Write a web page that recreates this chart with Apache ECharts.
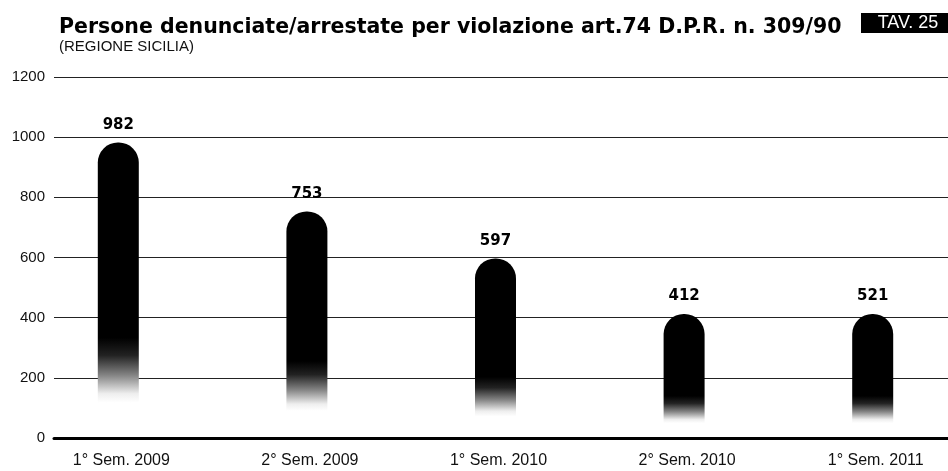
<!DOCTYPE html>
<html>
<head>
<meta charset="utf-8">
<script src="https://cdn.jsdelivr.net/npm/echarts@6/dist/echarts.min.js"></script>
<style>
html,body{margin:0;padding:0;background:#fff;}
#tav{width:948px;height:471px;}
</style>
</head>
<body>
<div id="tav"></div>
<script>
// dati
var semestri = ['1° Sem. 2009', '2° Sem. 2009', '1° Sem. 2010', '2° Sem. 2010', '1° Sem. 2011'];
var valori = [982, 753, 597, 412, 521];      // numeri stampati sopra le barre
var altezze = [982, 753, 597, 412, 412];     // altezza delle barre come disegnate
var tacche = [0, 200, 400, 600, 800, 1000, 1200];

var chart = echarts.init(document.getElementById('tav'));

var sfumatura = new echarts.graphic.LinearGradient(0, 0, 0, 1, [
    {offset: 0, color: '#000'},
    {offset: 0.66, color: '#000'},
    {offset: 0.72, color: '#222'},
    {offset: 0.79, color: '#888'},
    {offset: 0.85, color: '#eee'},
    {offset: 0.88, color: '#fff'},
    {offset: 1, color: '#fff'}
]);

option = {
    backgroundColor: '#fff',
    textStyle: {fontFamily: 'Liberation Sans'},
    title: [{
        text: 'Persone denunciate/arrestate per violazione art.74 D.P.R. n. 309/90',
        left: 54,
        top: 12,
        textStyle: {fontSize: 20.5, fontWeight: 'bold', color: '#000', fontFamily: 'DejaVu Sans'}
    }, {
        text: '(REGIONE SICILIA)',
        left: 54,
        top: 34,
        textStyle: {fontSize: 15, fontWeight: 'normal', color: '#111', fontFamily: 'Liberation Sans'}
    }],
    graphic: [{
        type: 'group',
        left: 861,
        top: 13,
        children: [
            {type: 'rect', shape: {x: 0, y: 0, width: 87, height: 20}, style: {fill: '#000'}},
            {type: 'text', x: 47, y: 10, style: {text: 'TAV. 25', fill: '#fff', font: '18px "Liberation Sans Narrow", "Liberation Sans"', align: 'center', verticalAlign: 'middle'}}
        ]
    }],
    grid: [
        {left: 54, right: 0, top: 77, bottom: 33, outerBoundsMode: 'none'},
        {left: 24, width: 943, top: 77, bottom: 33, outerBoundsMode: 'none'}
    ],
    xAxis: [
        {
            type: 'category', gridIndex: 0, data: semestri, z: 5,
            axisLine: {lineStyle: {color: '#000', width: 3}},
            axisTick: {show: false},
            axisLabel: {show: false}
        },
        {
            type: 'category', gridIndex: 1, data: semestri,
            axisLine: {show: false},
            axisTick: {show: false},
            axisLabel: {color: '#111', fontSize: 16, margin: 15, padding: [0, 0, 0, 6]}
        }
    ],
    yAxis: [
        {
            type: 'value', gridIndex: 0, min: tacche[0], max: tacche[tacche.length - 1], interval: 200,
            axisLine: {show: false},
            axisTick: {show: false},
            axisLabel: {color: '#111', fontSize: 15, margin: 9, formatter: function (v) { return String(v); }},
            splitLine: {lineStyle: {color: '#222', width: 1}}
        },
        {
            type: 'value', gridIndex: 1, min: tacche[0], max: tacche[tacche.length - 1], interval: 200,
            show: false
        }
    ],
    series: [{
        name: 'Persone denunciate/arrestate',
        type: 'bar',
        xAxisIndex: 1,
        yAxisIndex: 1,
        barWidth: 41,
        data: altezze,
        itemStyle: {color: sfumatura, borderRadius: [20, 20, 0, 0]},
        label: {
            show: true,
            position: 'top',
            distance: 10,
            fontSize: 15,
            fontWeight: 'bold',
            color: '#000',
            fontFamily: 'DejaVu Sans',
            formatter: function (p) { return valori[p.dataIndex]; }
        }
    }]
};
chart.setOption(option);
</script>
</body>
</html>
